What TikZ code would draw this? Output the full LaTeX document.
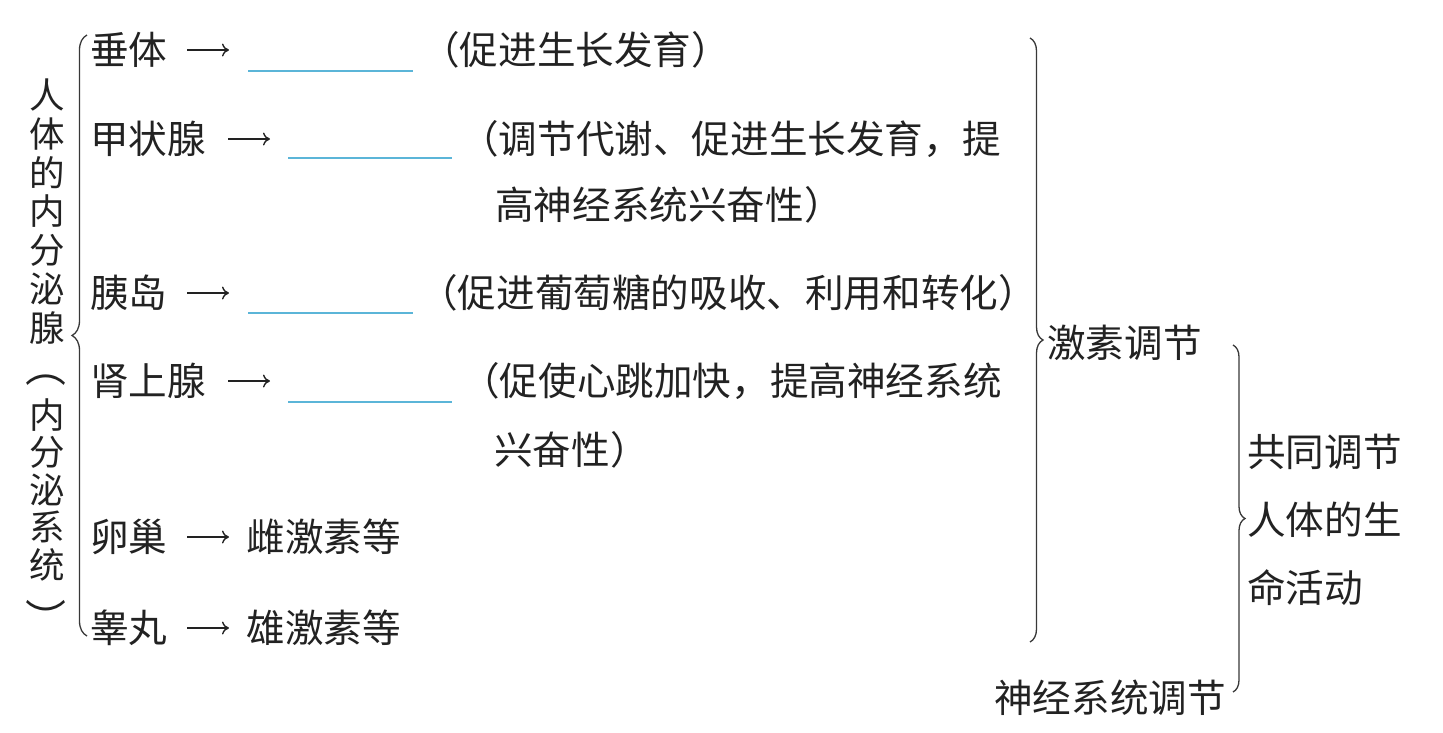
\documentclass[tikz,border=0pt]{standalone}
\usepackage{fontspec}
\newfontfamily\cjk{Noto Sans CJK SC}
\usetikzlibrary{decorations.pathreplacing,arrows.meta}
\definecolor{ink}{HTML}{222222}
\definecolor{blankblue}{HTML}{5BB5D8}
\begin{document}
\begin{tikzpicture}[x=1pt,y=-1pt,
  txt/.style={font=\cjk\fontsize{38.6}{46}\selectfont, text=ink, inner sep=0pt, anchor=west, text height=34pt, text depth=4.6pt},
  vtxt/.style={font=\cjk\fontsize{35.5}{42}\selectfont, text=ink, inner sep=0pt, anchor=center, text height=31.2pt, text depth=4.3pt},
  arr/.style={draw=ink, line width=1.4pt, -{To[length=7pt,width=13pt]}},
  blankline/.style={draw=blankblue, line width=1.3pt},
  bracestyle/.style={draw=ink!90, line width=1.3pt, decorate, decoration={brace, amplitude=#1}}
]
\useasboundingbox (0,0) rectangle (1443,732);

% vertical title
\foreach \c/\yy [count=\i] in {人/95,体/133.8,的/172.6,内/211.4,分/250.2,泌/289,腺/327.8,内/415,分/452.5,泌/490,系/527.5,统/565}
  \node[vtxt] (v\i) at (47,\yy) {\c};
\node[vtxt, rotate=-90, scale=1.15] (vpo) at (46,367) {（};
\node[vtxt, rotate=-90, scale=1.15] (vpc) at (46,619) {）};

% left brace
\coordinate (lbB) at (87,636);
\coordinate (lbT) at (87,35);
\draw[bracestyle=15] (lbB) -- (lbT);

% row 1
\node[txt] (g1) at (90,50) {垂体};
\coordinate (a1s) at (187,50); \coordinate (a1e) at (229,50);
\draw[arr] (a1s) -- (a1e);
\coordinate (b1s) at (248,71); \coordinate (b1e) at (413,71);
\draw[blankline] (b1s) -- (b1e);
\node[txt] (t1) at (421,50) {（促进生长发育）};

% row 2
\node[txt] (g2) at (90,139) {甲状腺};
\coordinate (a2s) at (228,139); \coordinate (a2e) at (270,139);
\draw[arr] (a2s) -- (a2e);
\coordinate (b2s) at (288,158); \coordinate (b2e) at (452,158);
\draw[blankline] (b2s) -- (b2e);
\node[txt] (t2) at (460,139) {（调节代谢、促进生长发育，提};
\node[txt] (t2b) at (495,205) {高神经系统兴奋性）};

% row 3
\node[txt] (g3) at (90,293) {胰岛};
\coordinate (a3s) at (187,293); \coordinate (a3e) at (229,293);
\draw[arr] (a3s) -- (a3e);
\coordinate (b3s) at (248,313); \coordinate (b3e) at (413,313);
\draw[blankline] (b3s) -- (b3e);
\node[txt] (t3) at (419,293) {（促进葡萄糖的吸收、利用和转化）};

% row 4
\node[txt] (g4) at (90,381) {肾上腺};
\coordinate (a4s) at (228,381); \coordinate (a4e) at (270,381);
\draw[arr] (a4s) -- (a4e);
\coordinate (b4s) at (288,402); \coordinate (b4e) at (452,402);
\draw[blankline] (b4s) -- (b4e);
\node[txt] (t4) at (461,381) {（促使心跳加快，提高神经系统};
\node[txt] (t4b) at (494,450) {兴奋性）};

% row 5
\node[txt] (g5) at (90,537) {卵巢};
\coordinate (a5s) at (187,537); \coordinate (a5e) at (229,537);
\draw[arr] (a5s) -- (a5e);
\node[txt] (t5) at (246.5,537) {雌激素等};

% row 6
\node[txt] (g6) at (90,628) {睾丸};
\coordinate (a6s) at (187,628); \coordinate (a6e) at (229,628);
\draw[arr] (a6s) -- (a6e);
\node[txt] (t6) at (246.5,628) {雄激素等};

% right brace 1
\coordinate (rb1T) at (1030,38);
\coordinate (rb1B) at (1030,642);
\draw[bracestyle=13] (rb1T) -- (rb1B);
\node[txt] (hormone) at (1047,343) {激素调节};

% right brace 2
\coordinate (rb2T) at (1233,345);
\coordinate (rb2B) at (1233,692);
\draw[bracestyle=12] (rb2T) -- (rb2B);
\node[txt] (nerve) at (994,698) {神经系统调节};

\node[txt] (c1) at (1247,452) {共同调节};
\node[txt] (c2) at (1247,520) {人体的生};
\node[txt] (c3) at (1247,588) {命活动};
\end{tikzpicture}
\end{document}
